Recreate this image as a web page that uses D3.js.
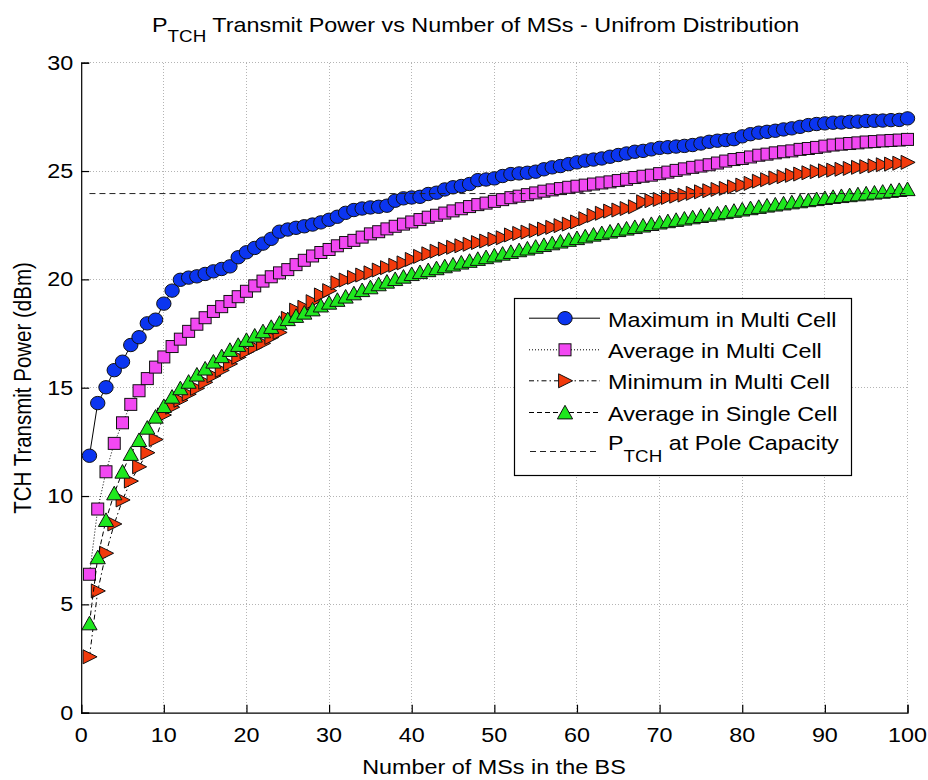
<!DOCTYPE html>
<html>
<head>
<meta charset="utf-8">
<script src="https://cdn.jsdelivr.net/npm/d3@7"></script>
<style>
  html, body { margin: 0; padding: 0; background: #fff; }
  svg { display: block; }
  text { font-family: "Liberation Sans", Arial, Helvetica, sans-serif; fill: #000; }
</style>
</head>
<body>
<svg id="chart" width="928" height="780"></svg>
<script>
// Number of mobile stations served by the base station
const msCounts = d3.range(1, 101);

// TCH transmit power (dBm) for each scenario
const maxMulti = [11.86, 14.29, 15.02, 15.81, 16.2, 16.97, 17.33, 17.97, 18.14, 18.88,
  19.48, 19.98, 20.08, 20.14, 20.25, 20.37, 20.48, 20.6, 21.02, 21.25,
  21.45, 21.65, 21.87, 22.2, 22.3, 22.38, 22.45, 22.53, 22.63, 22.75,
  22.89, 23.07, 23.2, 23.27, 23.32, 23.35, 23.4, 23.63, 23.74, 23.78,
  23.81, 23.94, 24.0, 24.15, 24.25, 24.31, 24.4, 24.58, 24.61, 24.66,
  24.77, 24.86, 24.89, 24.92, 24.97, 25.08, 25.17, 25.23, 25.32, 25.4,
  25.48, 25.53, 25.58, 25.66, 25.74, 25.81, 25.89, 25.93, 26.0, 26.07,
  26.1, 26.13, 26.16, 26.2, 26.27, 26.35, 26.4, 26.43, 26.47, 26.6,
  26.7, 26.77, 26.81, 26.86, 26.92, 26.97, 27.04, 27.12, 27.17, 27.2,
  27.23, 27.24, 27.27, 27.28, 27.31, 27.32, 27.33, 27.35, 27.36, 27.43];

const avgMulti = [6.39, 9.4, 11.12, 12.43, 13.38, 14.23, 14.86, 15.42, 15.95, 16.42,
  16.9, 17.24, 17.6, 17.93, 18.23, 18.52, 18.74, 18.98, 19.2, 19.45,
  19.7, 19.92, 20.12, 20.3, 20.45, 20.68, 20.88, 21.08, 21.24, 21.38,
  21.55, 21.7, 21.8, 21.95, 22.1, 22.2, 22.33, 22.45, 22.55, 22.65,
  22.76, 22.87, 22.96, 23.06, 23.16, 23.26, 23.36, 23.45, 23.52, 23.6,
  23.68, 23.77, 23.84, 23.91, 23.99, 24.07, 24.13, 24.19, 24.25, 24.3,
  24.35, 24.4, 24.45, 24.5, 24.56, 24.62, 24.7, 24.76, 24.81, 24.88,
  24.95, 25.03, 25.1, 25.17, 25.23, 25.29, 25.37, 25.46, 25.53, 25.58,
  25.65, 25.73, 25.78, 25.84, 25.89, 25.93, 26.0, 26.04, 26.09, 26.15,
  26.2, 26.24, 26.27, 26.3, 26.34, 26.36, 26.39, 26.41, 26.43, 26.46];

const minMulti = [2.58, 5.62, 7.36, 8.71, 9.82, 10.69, 11.35, 12.0, 12.61, 13.74,
  14.1, 14.42, 14.7, 14.97, 15.25, 15.55, 15.8, 16.1, 16.4, 16.66,
  16.86, 17.05, 17.32, 17.55, 18.2, 18.58, 18.71, 18.97, 19.28, 19.48,
  19.84, 19.97, 20.09, 20.2, 20.3, 20.43, 20.54, 20.65, 20.76, 20.92,
  21.06, 21.18, 21.3, 21.4, 21.48, 21.55, 21.62, 21.7, 21.77, 21.85,
  21.92, 22.05, 22.12, 22.18, 22.25, 22.32, 22.4, 22.48, 22.55, 22.65,
  22.8, 22.95, 23.05, 23.15, 23.2, 23.27, 23.35, 23.58, 23.63, 23.69,
  23.78, 23.84, 23.89, 23.97, 24.04, 24.09, 24.15, 24.2, 24.27, 24.35,
  24.43, 24.53, 24.6, 24.68, 24.74, 24.8, 24.86, 24.92, 24.97, 25.01,
  25.04, 25.08, 25.12, 25.17, 25.2, 25.24, 25.29, 25.32, 25.36, 25.4];

const avgSingle = [4.12, 7.17, 8.89, 10.12, 11.12, 11.94, 12.58, 13.15, 13.66, 14.15,
  14.58, 14.97, 15.27, 15.6, 15.88, 16.2, 16.45, 16.74, 16.97, 17.2,
  17.4, 17.6, 17.8, 17.99, 18.16, 18.31, 18.46, 18.61, 18.79, 18.92,
  19.05, 19.2, 19.35, 19.5, 19.63, 19.77, 19.89, 20.01, 20.12, 20.24,
  20.33, 20.42, 20.51, 20.6, 20.68, 20.77, 20.85, 20.94, 21.02, 21.1,
  21.18, 21.26, 21.34, 21.42, 21.5, 21.58, 21.66, 21.74, 21.82, 21.9,
  21.98, 22.06, 22.13, 22.2, 22.27, 22.34, 22.41, 22.48, 22.55, 22.62,
  22.68, 22.74, 22.8, 22.86, 22.92, 22.98, 23.04, 23.1, 23.16, 23.22,
  23.28, 23.34, 23.4, 23.45, 23.5, 23.55, 23.6, 23.65, 23.7, 23.75,
  23.8, 23.84, 23.88, 23.92, 23.96, 24.0, 24.04, 24.08, 24.12, 24.16];

// TCH power reached at pole capacity, drawn across this MS range
const poleCapacity = 23.96;
const poleRange = [1, 100];

const xTicks = [0, 10, 20, 30, 40, 50, 60, 70, 80, 90, 100];
const yTicks = [0, 5, 10, 15, 20, 25, 30];

const legendLabels = ["Maximum in Multi Cell", "Average in Multi Cell",
  "Minimum in Multi Cell", "Average in Single Cell"];

// ---------------------------------------------------------------------------
const svg = d3.select("#chart");
const SX = 1.14;            // horizontal text stretch of the figure
const FS = 20.5;            // base font size
const SUBFS = 16.5;         // subscript font size

const x = d3.scaleLinear().domain([0, 100]).range([81.2, 907.5]);
const y = d3.scaleLinear().domain([0, 30]).range([712.7, 62.7]);

function label(g, px, py, anchor, size) {
  return g.append("text")
    .attr("transform", `translate(${px},${py}) scale(${SX},1)`)
    .attr("text-anchor", anchor)
    .style("font-size", size + "px");
}

// grid
const grid = svg.append("g").attr("stroke", "#b4b4b4").attr("stroke-width", 1)
  .attr("stroke-dasharray", "1,2").attr("shape-rendering", "crispEdges");
grid.selectAll(".gx").data(xTicks.filter(d => d > 0)).join("line")
  .attr("x1", d => x(d)).attr("x2", d => x(d))
  .attr("y1", y(30)).attr("y2", y(0));
grid.selectAll(".gy").data(yTicks.filter(d => d > 0)).join("line")
  .attr("x1", x(0)).attr("x2", x(100))
  .attr("y1", d => y(d)).attr("y2", d => y(d));

// axes (inward ticks, no box)
const gx = svg.append("g").attr("transform", `translate(0,${y(0)})`)
  .call(d3.axisBottom(x).tickValues(xTicks).tickSize(-8).tickFormat(""));
const gy = svg.append("g").attr("transform", `translate(${x(0)},0)`)
  .call(d3.axisLeft(y).tickValues(yTicks).tickSize(-8).tickFormat(""));
[gx, gy].forEach(g => {
  g.select(".domain").attr("stroke", "#000").attr("stroke-width", 1.2);
  g.selectAll(".tick line").attr("stroke", "#000").attr("stroke-width", 1.2);
});

// tick labels
xTicks.forEach(t => label(svg, x(t), y(0) + 29.5, "middle", FS).text(t));
yTicks.forEach(t => label(svg, x(0) - 8, y(t) + 7, "end", FS).text(t));

// axis titles
label(svg, 494, 774, "middle", FS).text("Number of MSs in the BS");
svg.append("text")
  .attr("transform", `translate(31,388) scale(${SX},1) rotate(-90)`)
  .attr("text-anchor", "middle").style("font-size", FS + "px")
  .text("TCH Transmit Power (dBm)");

// title with subscript
const title = label(svg, 152, 32, "start", FS);
title.append("tspan").text("P");
title.append("tspan").attr("dy", 10).style("font-size", SUBFS + "px").text("TCH");
title.append("tspan").attr("dy", -10).text(" Transmit Power vs Number of MSs - Unifrom Distribution");

// markers
const markerShapes = {
  circle: g => g.append("ellipse").attr("rx", 7.2).attr("ry", 6.7),
  square: g => g.append("rect").attr("x", -6).attr("y", -6).attr("width", 12).attr("height", 12),
  right: g => g.append("path").attr("d", "M7.6,0 L-6.4,-7 L-6.4,7 Z"),
  up: g => g.append("path").attr("d", "M0,-7.2 L7.6,6.4 L-7.6,6.4 Z")
};

const series = [
  { values: maxMulti, shape: "circle", fill: "#0b35f0", dash: null, lw: 1 },
  { values: avgMulti, shape: "square", fill: "#f248f2", dash: "1,2", lw: 1 },
  { values: minMulti, shape: "right", fill: "#f23a0c", dash: "5,3,1.5,3", lw: 1 },
  { values: avgSingle, shape: "up", fill: "#1ee81e", dash: "5,3", lw: 1 }
];

const line = d3.line().x(d => x(d[0])).y(d => y(d[1]));

series.forEach(s => {
  const pts = msCounts.map((n, i) => [n, s.values[i]]);
  const g = svg.append("g");
  g.append("path").attr("d", line(pts)).attr("fill", "none")
    .attr("stroke", "#000").attr("stroke-width", s.lw)
    .attr("stroke-dasharray", s.dash);
  pts.forEach(p => {
    const m = g.append("g").attr("transform", `translate(${x(p[0])},${y(p[1])})`);
    markerShapes[s.shape](m).attr("fill", s.fill).attr("stroke", "#111").attr("stroke-width", 1);
  });
});

// pole capacity reference line
svg.append("line")
  .attr("x1", x(poleRange[0])).attr("x2", x(poleRange[1]))
  .attr("y1", y(poleCapacity)).attr("y2", y(poleCapacity))
  .attr("stroke", "#222").attr("stroke-width", 1).attr("stroke-dasharray", "6,4");

// legend
const lg = svg.append("g");
lg.append("rect").attr("x", 514.5).attr("y", 298.5).attr("width", 337).attr("height", 177)
  .attr("fill", "#fff").attr("stroke", "#000").attr("stroke-width", 1.2);
const rowBase = [326.7, 358.3, 389.3, 421];
series.forEach((s, i) => {
  const ly = rowBase[i] - 8.5;
  lg.append("line").attr("x1", 529).attr("x2", 600).attr("y1", ly).attr("y2", ly)
    .attr("stroke", "#000").attr("stroke-width", s.lw).attr("stroke-dasharray", s.dash);
  const m = lg.append("g").attr("transform", `translate(565,${ly})`);
  markerShapes[s.shape](m).attr("fill", s.fill).attr("stroke", "#111").attr("stroke-width", 1);
  label(lg, 608, rowBase[i], "start", FS).text(legendLabels[i]);
});
lg.append("line").attr("x1", 530).attr("x2", 600).attr("y1", 451.5).attr("y2", 451.5)
  .attr("stroke", "#222").attr("stroke-width", 1).attr("stroke-dasharray", "6,4");
const pl = label(lg, 608, 450, "start", FS);
pl.append("tspan").text("P");
pl.append("tspan").attr("dy", 11.5).style("font-size", SUBFS + "px").text("TCH");
pl.append("tspan").attr("dy", -11.5).text(" at Pole Capacity");
</script>
</body>
</html>
